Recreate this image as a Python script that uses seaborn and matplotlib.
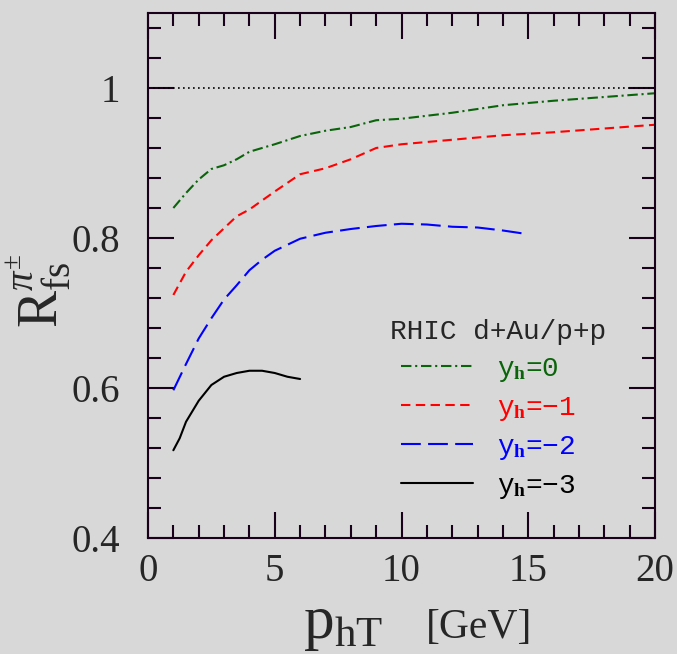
import numpy as np
import pandas as pd
import matplotlib
matplotlib.use('Agg')
import matplotlib.pyplot as plt
import matplotlib.transforms as mtransforms
from matplotlib.lines import Line2D
from matplotlib.ticker import MultipleLocator, FuncFormatter
import seaborn as sns

# curves
pt_y0 = [1, 1.5, 2, 2.5, 3, 3.5, 4, 5, 6, 7, 8, 9, 10, 12, 14, 16, 18, 20]
r_y0 = [0.840, 0.860, 0.878, 0.892, 0.897, 0.905, 0.915, 0.925, 0.936, 0.943,
        0.948, 0.957, 0.959, 0.967, 0.977, 0.983, 0.988, 0.993]

pt_y1 = [1, 1.5, 2, 2.5, 3, 3.5, 4, 5, 6, 7, 8, 9, 10, 12, 14, 16, 18, 20]
r_y1 = [0.724, 0.755, 0.777, 0.797, 0.813, 0.829, 0.838, 0.862, 0.885, 0.893,
        0.905, 0.920, 0.925, 0.931, 0.937, 0.941, 0.946, 0.951]

pt_y2 = [1, 1.5, 2, 2.5, 3, 3.5, 4, 4.5, 5, 6, 7, 8, 9, 10, 11, 12, 13, 14, 15]
r_y2 = [0.597, 0.632, 0.666, 0.693, 0.718, 0.737, 0.757, 0.771, 0.783, 0.799,
        0.807, 0.812, 0.816, 0.819, 0.818, 0.815, 0.814, 0.810, 0.805]

pt_y3 = [1, 1.25, 1.5, 2, 2.5, 3, 3.5, 4, 4.5, 5, 5.5, 6]
r_y3 = [0.517, 0.533, 0.555, 0.583, 0.604, 0.615, 0.620, 0.623, 0.623, 0.620,
        0.615, 0.612]

curve_names = ['y0', 'y1', 'y2', 'y3']
curve_labels = ['y$_{\\mathbf{h}}$=0', 'y$_{\\mathbf{h}}$=\u22121',
                'y$_{\\mathbf{h}}$=\u22122', 'y$_{\\mathbf{h}}$=\u22123']
legend_title = 'RHIC d+Au/p+p'

colors = {'y0': '#0a640a', 'y1': '#ff0000', 'y2': '#0000ff', 'y3': '#000000'}
dash_map = {'y0': (5, 1.8, 1, 1.8), 'y1': (4.5, 2.6), 'y2': (9.5, 3.5), 'y3': ''}

BG = '#d8d8d8'
FRAME = '#1a001a'

df = pd.concat([
    pd.DataFrame({'pT': pt_y0, 'R': r_y0, 'curve': 'y0'}),
    pd.DataFrame({'pT': pt_y1, 'R': r_y1, 'curve': 'y1'}),
    pd.DataFrame({'pT': pt_y2, 'R': r_y2, 'curve': 'y2'}),
    pd.DataFrame({'pT': pt_y3, 'R': r_y3, 'curve': 'y3'}),
], ignore_index=True)

sns.set_theme(style='ticks')
plt.rcParams.update({
    'font.family': ['Liberation Serif', 'DejaVu Serif'],
    'mathtext.fontset': 'custom',
    'mathtext.rm': 'Liberation Serif',
    'mathtext.it': 'Liberation Serif:italic',
    'mathtext.bf': 'Liberation Serif:bold',
    'figure.facecolor': BG,
    'axes.facecolor': BG,
})

fig = plt.figure(figsize=(6.77, 6.54), dpi=100)
ax = fig.add_axes([148 / 677, 1 - 538 / 654, 507 / 677, 525 / 654])

ax.axhline(1.0, color='black', linestyle=(0, (1, 2)), linewidth=1.2, zorder=1)

sns.lineplot(data=df, x='pT', y='R', hue='curve', style='curve',
             palette=colors, dashes=dash_map, estimator=None, sort=False,
             linewidth=1.5, legend=False, ax=ax)

ax.set_xlim(0, 20)
ax.set_ylim(0.4, 1.1)
ax.xaxis.set_major_locator(MultipleLocator(5))
ax.xaxis.set_minor_locator(MultipleLocator(1))
ax.yaxis.set_major_locator(MultipleLocator(0.2))
ax.yaxis.set_minor_locator(MultipleLocator(0.04))
ax.yaxis.set_major_formatter(FuncFormatter(lambda v, p: f'{v:g}'))

for s in ax.spines.values():
    s.set_color(FRAME)
    s.set_linewidth(1.5)
ax.tick_params(which='both', direction='in', top=True, right=True,
               color=FRAME, width=1.5)
ax.tick_params(which='major', length=19)
ax.tick_params(which='minor', length=9.5)
ax.tick_params(axis='x', which='major', labelsize=28, pad=11)
ax.tick_params(axis='y', which='major', labelsize=28, pad=20)

# x label: big p_hT plus smaller [GeV]
ax.set_xlabel('')
ax.text(0.306, -0.19, r'$\mathrm{p}_{\mathrm{hT}}$', transform=ax.transAxes,
        fontsize=44, ha='left', va='baseline', clip_on=False)
ax.text(0.548, -0.19, '[GeV]', transform=ax.transAxes,
        fontsize=30, ha='left', va='baseline', clip_on=False)

ax.set_ylabel(r'$\mathrm{R}^{\pi^{\pm}}_{\mathrm{fs}}$', fontsize=40)
ax.yaxis.set_label_coords(-0.15, 0.47)

handles = []
for c in curve_names:
    h = Line2D([], [], color=colors[c], linewidth=1.5, linestyle='-')
    if dash_map[c]:
        h.set_dashes(dash_map[c])
    handles.append(h)

mono = ['Liberation Mono', 'DejaVu Sans Mono']
leg = ax.legend(handles, curve_labels, title=legend_title,
                loc='upper left', bbox_to_anchor=(0.499, 0.418),
                frameon=False, borderpad=0, borderaxespad=0,
                handlelength=2.6, handletextpad=0.85, labelspacing=0.4,
                labelcolor=[colors[c] for c in curve_names],
                prop={'family': mono, 'size': 20},
                title_fontproperties={'family': mono, 'size': 20},
                alignment='left')
# title sits a little left of the sample lines
title = leg.get_title()
title.set_transform(title.get_transform() + mtransforms.Affine2D().translate(-11, 0))

fig.savefig('out.png', dpi=100, facecolor=BG)
